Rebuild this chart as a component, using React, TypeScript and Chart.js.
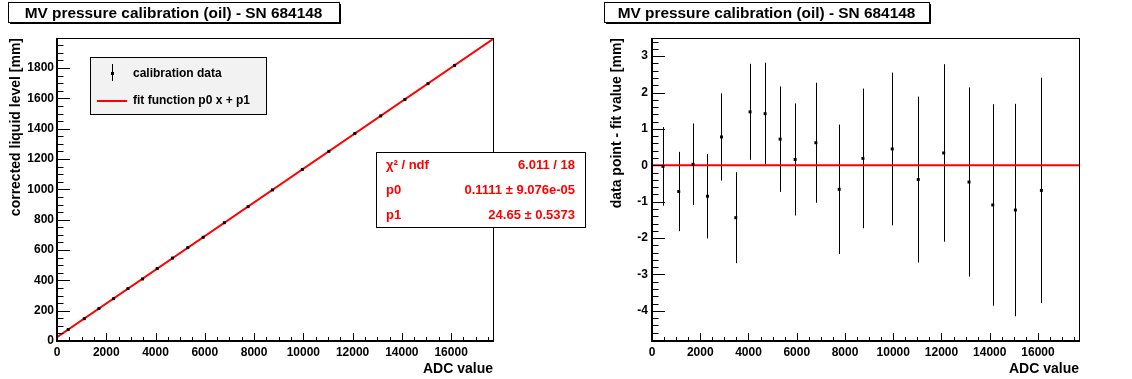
import React, { useEffect, useRef } from "react";
import { Chart, registerables } from "chart.js";

Chart.register(...registerables);

const FONT = "'Liberation Sans', Arial, Helvetica, sans-serif";

// ---------------- data ----------------
const adcValues = [456, 1108, 1701, 2299, 2880, 3473, 4066, 4689, 5311, 5934, 6793, 7759, 8743, 9959, 11037, 12091, 13141, 14124, 15062, 16141];
const levelValues = [75.3, 147.0, 213.7, 279.2, 345.4, 409.1, 477.9, 547.0, 615.4, 684.1, 780.0, 886.0, 996.2, 1131.5, 1250.5, 1368.3, 1484.2, 1592.7, 1696.8, 1817.2];
const levelErrors = [1.08, 1.09, 1.12, 1.16, 1.2, 1.25, 1.32, 1.4, 1.45, 1.54, 1.65, 1.78, 1.92, 2.1, 2.28, 2.44, 2.6, 2.77, 2.92, 3.1];
const residualValues = [-0.03, -0.72, 0.03, -0.85, 0.78, -1.44, 1.47, 1.42, 0.72, 0.16, 0.62, -0.66, 0.19, 0.45, -0.39, 0.34, -0.46, -1.09, -1.23, -0.69];
const residualErrors = [1.08, 1.09, 1.12, 1.16, 1.2, 1.25, 1.32, 1.4, 1.45, 1.54, 1.65, 1.78, 1.92, 2.1, 2.28, 2.44, 2.6, 2.77, 2.92, 3.1];

const fitLineX = [0, 17700];
const fitLineY = [24.65, 1991.1];
const zeroLineX = [0, 17700];
const zeroLineY = [0, 0];

const xRange = [0, 17700];
const levelRange = [0, 1998];
const residualRange = [-4.83, 3.5];

// tick layout: [first, last, minor step, major step]
const xTickSpec = [0, 17500, 500, 2000];
const levelTickSpec = [0, 1950, 50, 200];
const residualTickSpec = [-4.8, 3.4, 0.2, 1];

const titleText = "MV pressure calibration (oil) - SN 684148";
const xAxisTitle = "ADC value";
const leftYTitle = "corrected liquid level [mm]";
const rightYTitle = "data point - fit value [mm]";
const legendLabels = ["calibration data", "fit function p0 x + p1"];
const statsLabels = ["\u03c7\u00b2 / ndf", "p0", "p1"];
const statsValues = ["6.011 / 18", "0.1111 \u00b1 9.076e-05", "24.65 \u00b1 0.5373"];

// ---------------- helpers ----------------
function tickValues(spec: number[]) {
  const [first, last, step] = spec;
  const n = Math.round((last - first) / step);
  const out: number[] = [];
  for (let k = 0; k <= n; k++) out.push(Math.round((first + k * step) * 1000) / 1000);
  return out;
}

function isMajor(v: number, step: number) {
  const r = v / step;
  return Math.abs(r - Math.round(r)) < 1e-6;
}

type DecorCfg = {
  titleX0: number;
  titleX1: number;
  xMajor: number;
  yMajor: number;
  yMajorLen: number;
  yMinorLen: number;
  values: number[];
  errors: number[];
  legend: boolean;
  stats: boolean;
};

function line(ctx: CanvasRenderingContext2D, x0: number, y0: number, x1: number, y1: number) {
  ctx.beginPath();
  ctx.moveTo(x0, y0);
  ctx.lineTo(x1, y1);
  ctx.stroke();
}

function makeDecor(cfg: DecorCfg) {
  return {
    id: "rootDecor",
    beforeDatasetsDraw(chart: any) {
      const ctx: CanvasRenderingContext2D = chart.ctx;
      const ys = chart.scales.y;
      const meta = chart.getDatasetMeta(0);
      ctx.save();
      ctx.strokeStyle = "#000";
      ctx.lineWidth = 1;
      meta.data.forEach((el: any, i: number) => {
        const x = Math.round(el.x) + 0.5;
        const yt = ys.getPixelForValue(cfg.values[i] + cfg.errors[i]);
        const yb = ys.getPixelForValue(cfg.values[i] - cfg.errors[i]);
        line(ctx, x, yt, x, yb);
      });
      ctx.restore();
    },
    afterDraw(chart: any) {
      const ctx: CanvasRenderingContext2D = chart.ctx;
      const ca = chart.chartArea;
      const xs = chart.scales.x;
      const ys = chart.scales.y;
      ctx.save();
      ctx.strokeStyle = "#000";
      ctx.fillStyle = "#000";
      // frame
      ctx.lineWidth = 1;
      ctx.strokeRect(ca.left + 0.5, ca.top + 0.5, ca.right - ca.left, ca.bottom - ca.top);
      ctx.lineWidth = 2;
      line(ctx, ca.left, ca.top, ca.left, ca.bottom + 1);
      line(ctx, ca.left - 1, ca.bottom, ca.right + 1, ca.bottom);
      // tick marks (inward)
      ctx.lineWidth = 1;
      xs.ticks.forEach((t: any) => {
        const px = Math.round(xs.getPixelForValue(t.value)) + 0.5;
        const len = isMajor(t.value, cfg.xMajor) ? 8 : 4;
        line(ctx, px, ca.bottom, px, ca.bottom - len);
      });
      ys.ticks.forEach((t: any) => {
        const py = Math.round(ys.getPixelForValue(t.value)) + 0.5;
        const len = isMajor(t.value, cfg.yMajor) ? cfg.yMajorLen : cfg.yMinorLen;
        line(ctx, ca.left, py, ca.left + len, py);
      });

      // title box
      const tx0 = cfg.titleX0, tx1 = cfg.titleX1;
      ctx.fillStyle = "#000";
      ctx.fillRect(tx0 + 2, 4, tx1 - tx0, 20);
      ctx.fillStyle = "#fff";
      ctx.fillRect(tx0, 2, tx1 - tx0, 21);
      ctx.strokeStyle = "#000";
      ctx.strokeRect(tx0 + 0.5, 2.5, tx1 - tx0, 20);
      ctx.fillStyle = "#000";
      ctx.font = `bold 15.4px ${FONT}`;
      ctx.textAlign = "center";
      ctx.textBaseline = "middle";
      ctx.fillText(titleText, (tx0 + tx1) / 2, 13.5);

      if (cfg.legend) {
        ctx.fillStyle = "#f2f2f2";
        ctx.fillRect(90, 57, 176, 57);
        ctx.strokeStyle = "#000";
        ctx.lineWidth = 1;
        ctx.strokeRect(90.5, 57.5, 176, 57);
        ctx.fillStyle = "#000";
        line(ctx, 112.5, 64, 112.5, 81);
        ctx.fillRect(111, 72, 3, 3);
        ctx.strokeStyle = "#ff0000";
        ctx.lineWidth = 2;
        line(ctx, 97, 101, 127, 101);
        ctx.fillStyle = "#000";
        ctx.font = `bold 12px ${FONT}`;
        ctx.textAlign = "left";
        ctx.textBaseline = "middle";
        ctx.fillText(legendLabels[0], 133, 74);
        ctx.fillText(legendLabels[1], 133, 101);
      }

      if (cfg.stats) {
        ctx.fillStyle = "#fff";
        ctx.fillRect(376, 152, 209, 75);
        ctx.strokeStyle = "#000";
        ctx.lineWidth = 1;
        ctx.strokeRect(376.5, 152.5, 209, 75);
        ctx.fillStyle = "#ff0000";
        ctx.font = `bold 13px ${FONT}`;
        ctx.textBaseline = "middle";
        const rows = [165, 190.5, 215.5];
        statsLabels.forEach((lab, i) => {
          ctx.textAlign = "left";
          ctx.fillText(lab, 386, rows[i]);
          ctx.textAlign = "right";
          ctx.fillText(statsValues[i], 575, rows[i]);
        });
      }
      ctx.restore();
    },
  };
}

function axis(spec: number[], range: number[], position: string, extra: any) {
  const vals = tickValues(spec);
  const major = spec[3];
  return {
    type: "linear",
    position,
    bounds: "data",
    min: range[0],
    max: range[1],
    grid: { display: false, drawTicks: false },
    border: { display: false },
    afterBuildTicks: (s: any) => {
      s.ticks = vals.map((v) => ({ value: v }));
    },
    ...extra,
    ticks: {
      autoSkip: false,
      maxRotation: 0,
      minRotation: 0,
      color: "#000",
      font: { size: 12, weight: "bold", family: FONT },
      callback: (v: number) => (isMajor(v, major) ? String(Math.round(v) === 0 ? 0 : Math.round(v)) : ""),
      ...(extra.ticks || {}),
    },
  };
}

function titleOpt(text: string, pad: any) {
  return { display: true, text, align: "end", color: "#000", font: { size: 14, weight: "bold", family: FONT }, padding: pad };
}

function leftConfig(): any {
  const points = adcValues.map((x, i) => ({ x, y: levelValues[i] }));
  const fit = fitLineX.map((x, i) => ({ x, y: fitLineY[i] }));
  return {
    type: "scatter",
    data: {
      datasets: [
        { data: points, backgroundColor: "#000", borderColor: "#000", pointStyle: "rect", pointRadius: 2.1, pointBorderWidth: 0, showLine: false },
        { data: fit, borderColor: "#ff0000", backgroundColor: "#ff0000", borderWidth: 2, pointRadius: 0, showLine: true, fill: false },
      ],
    },
    options: {
      responsive: false,
      animation: false,
      devicePixelRatio: 1,
      layout: { padding: { left: 0, right: 1132 - 493, top: 38, bottom: 0 } },
      plugins: { legend: { display: false }, tooltip: { enabled: false }, title: { display: false } },
      scales: {
        x: axis(xTickSpec, xRange, "bottom", {
          ticks: { padding: 4 },
          title: titleOpt(xAxisTitle, { top: 0, bottom: 1.5 }),
          afterFit: (s: any) => { s.height = 38; },
        }),
        y: axis(levelTickSpec, levelRange, "left", {
          ticks: { padding: 3 },
          title: titleOpt(leftYTitle, { top: 7.6, bottom: 0 }),
          afterFit: (s: any) => { s.width = 57; },
        }),
      },
    },
    plugins: [
      makeDecor({ titleX0: 8, titleX1: 339, xMajor: xTickSpec[3], yMajor: levelTickSpec[3], yMajorLen: 13, yMinorLen: 6.5, values: levelValues, errors: levelErrors, legend: true, stats: true }),
    ],
  };
}

function rightConfig(): any {
  const points = adcValues.map((x, i) => ({ x, y: residualValues[i] }));
  const zero = zeroLineX.map((x, i) => ({ x, y: zeroLineY[i] }));
  return {
    type: "scatter",
    data: {
      datasets: [
        { data: points, backgroundColor: "#000", borderColor: "#000", pointStyle: "rect", pointRadius: 2.1, pointBorderWidth: 0, showLine: false },
        { data: zero, borderColor: "#ff0000", backgroundColor: "#ff0000", borderWidth: 2, pointRadius: 0, showLine: true, fill: false },
      ],
    },
    options: {
      responsive: false,
      animation: false,
      devicePixelRatio: 1,
      layout: { padding: { left: 0, right: 1132 - 1079, top: 38, bottom: 0 } },
      plugins: { legend: { display: false }, tooltip: { enabled: false }, title: { display: false } },
      scales: {
        x: axis(xTickSpec, xRange, "bottom", {
          ticks: { padding: 4 },
          title: titleOpt(xAxisTitle, { top: 0, bottom: 1.5 }),
          afterFit: (s: any) => { s.height = 38; },
        }),
        y: axis(residualTickSpec, residualRange, "left", {
          ticks: { padding: 4 },
          title: titleOpt(rightYTitle, { top: 609, bottom: 0 }),
          afterFit: (s: any) => { s.width = 652; },
        }),
      },
    },
    plugins: [
      makeDecor({ titleX0: 604, titleX1: 929, xMajor: xTickSpec[3], yMajor: residualTickSpec[3], yMajorLen: 13, yMinorLen: 6.5, values: residualValues, errors: residualErrors, legend: false, stats: false }),
    ],
  };
}

export default function App() {
  const leftRef = useRef<HTMLCanvasElement>(null);
  const rightRef = useRef<HTMLCanvasElement>(null);

  useEffect(() => {
    const left = new Chart(leftRef.current as HTMLCanvasElement, leftConfig());
    const right = new Chart(rightRef.current as HTMLCanvasElement, rightConfig());
    return () => {
      left.destroy();
      right.destroy();
    };
  }, []);

  return (
    <div style={{ position: "fixed", left: 0, top: 0, width: 1132, height: 379, background: "#fff" }}>
      <canvas ref={leftRef} width={1132} height={379} style={{ position: "absolute", left: 0, top: 0 }} />
      <canvas ref={rightRef} width={1132} height={379} style={{ position: "absolute", left: 0, top: 0 }} />
    </div>
  );
}
